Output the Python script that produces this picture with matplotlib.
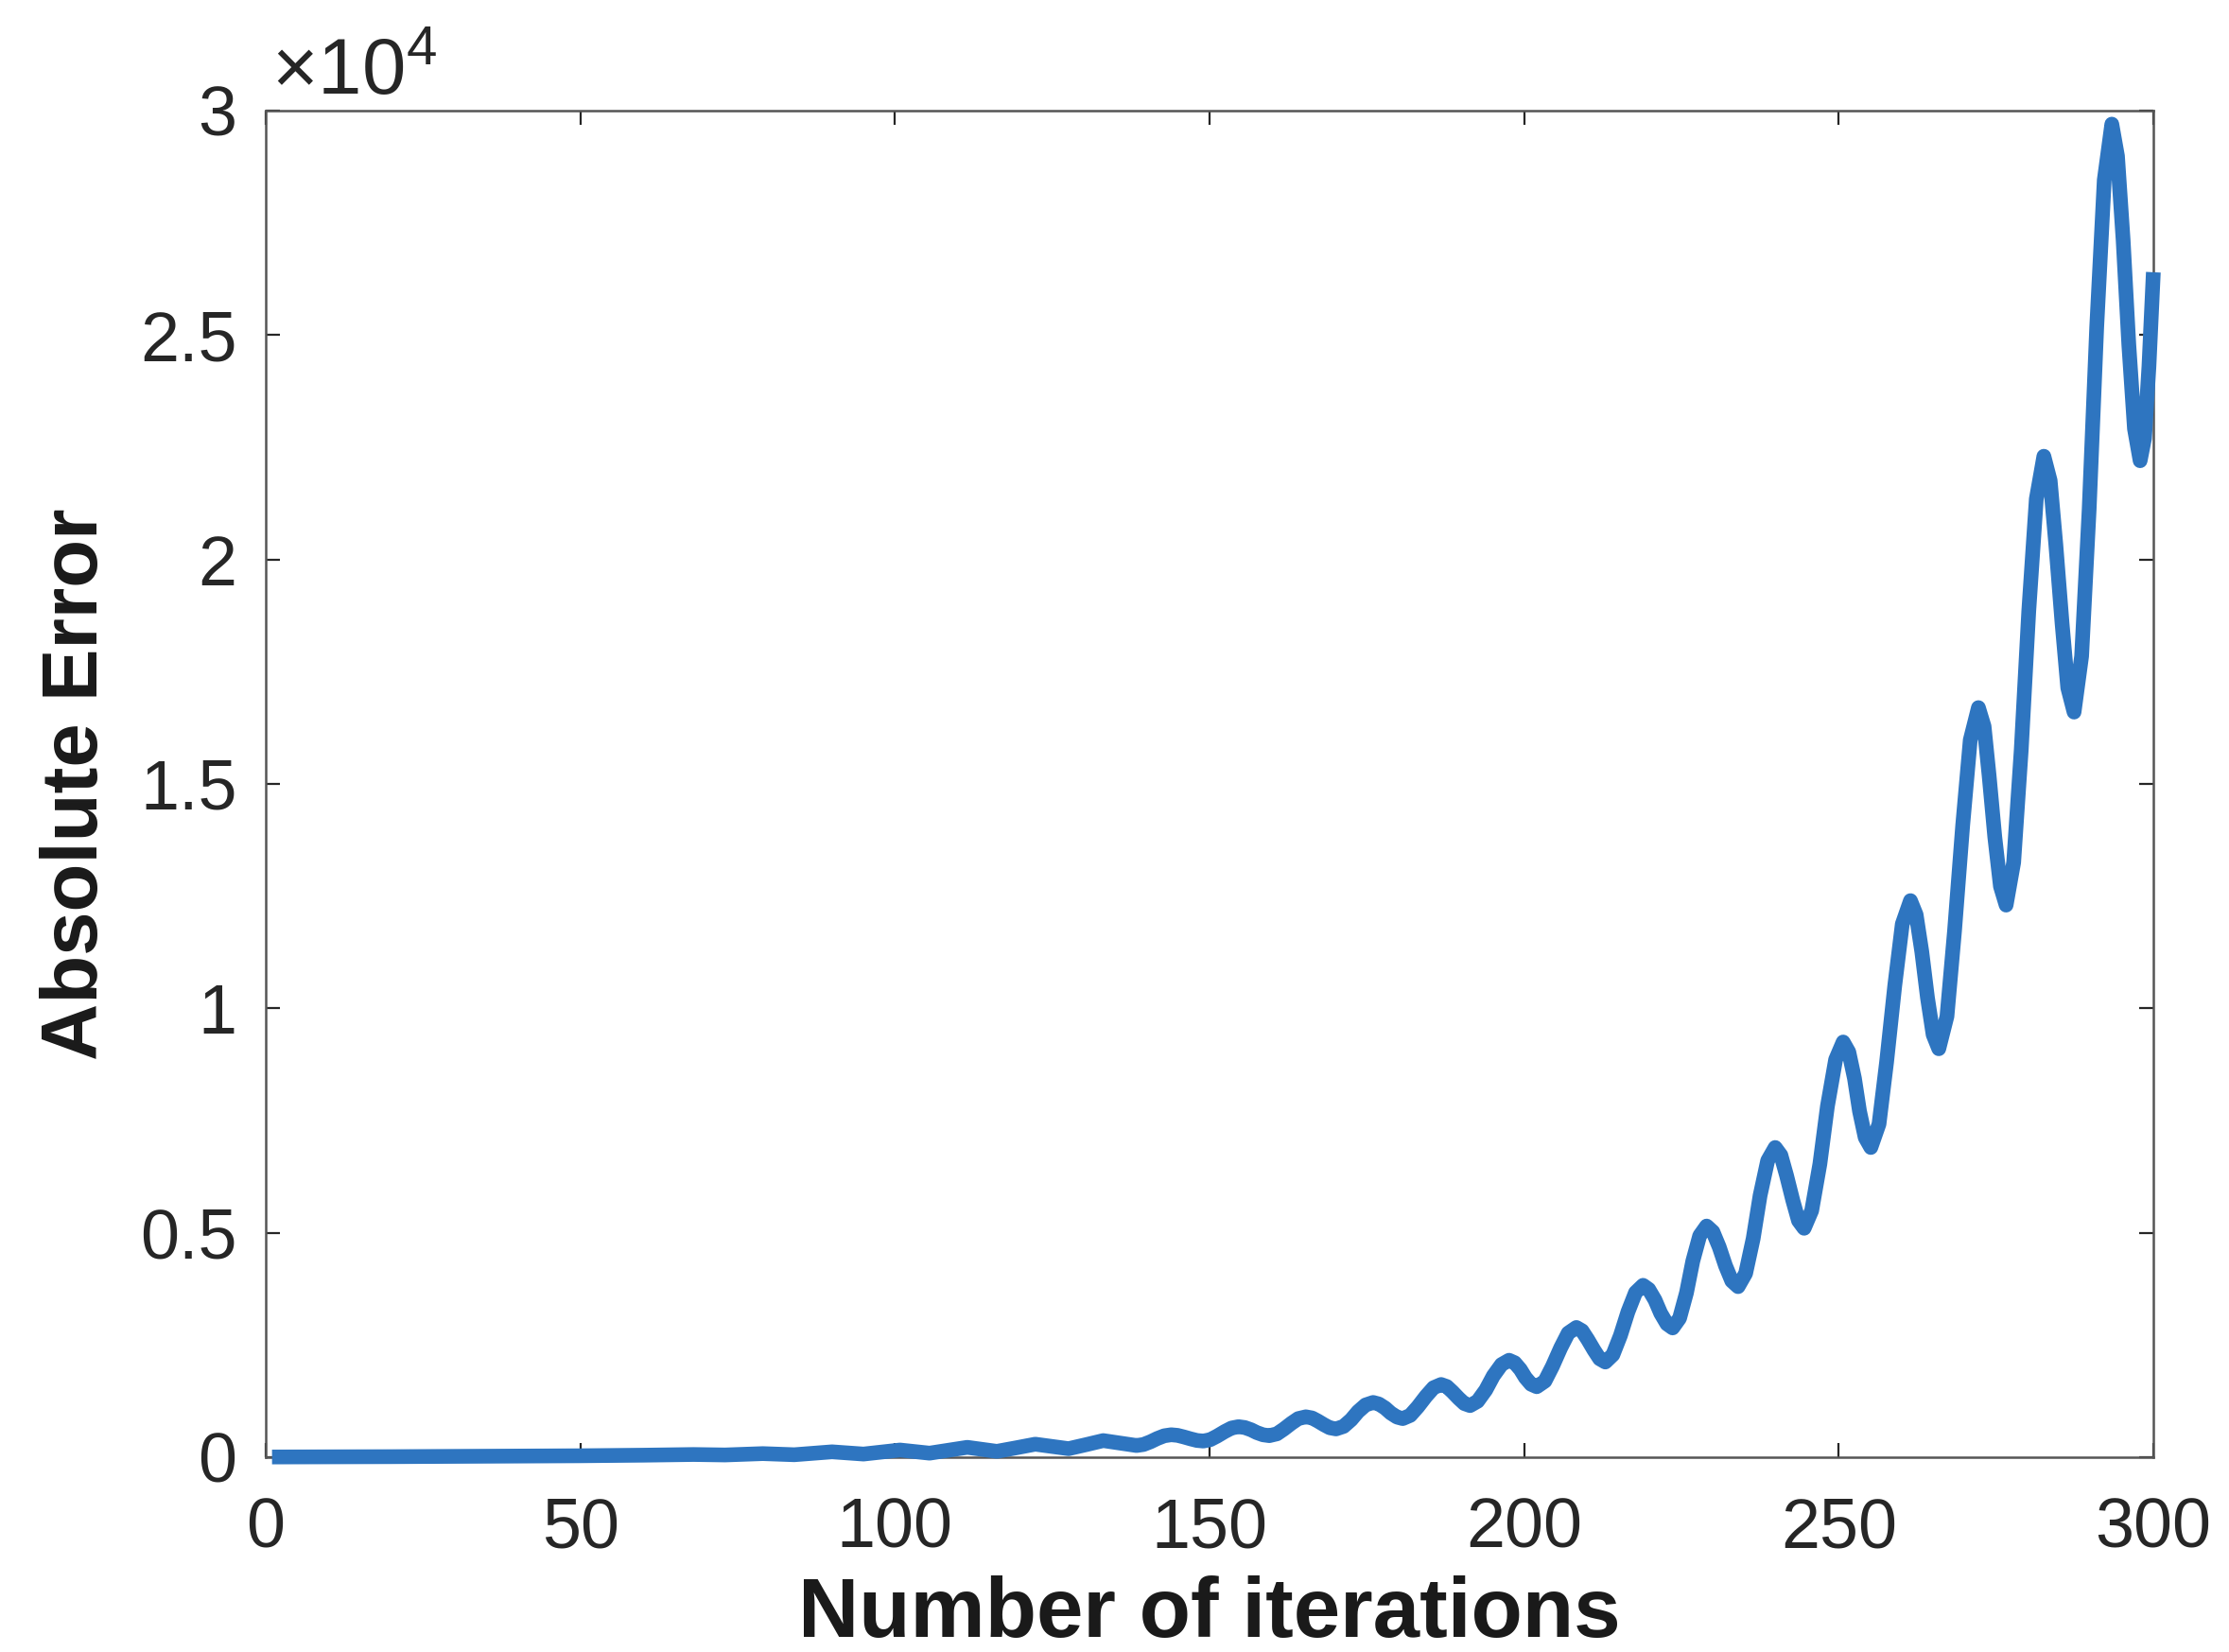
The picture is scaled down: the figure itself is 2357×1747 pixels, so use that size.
import matplotlib
matplotlib.use("Agg")
import matplotlib.pyplot as plt
from matplotlib.ticker import FixedLocator, FuncFormatter

plt.rcParams['font.family'] = ['Liberation Sans', 'DejaVu Sans']
plt.rcParams['mathtext.fontset'] = 'custom'
plt.rcParams['mathtext.rm'] = 'Liberation Sans'
plt.rcParams['mathtext.it'] = 'Liberation Sans'

# Data (iteration, absolute error)
iterations = [1, 10, 20, 30, 40, 50, 60, 68, 73, 79, 84, 90, 95,
              100.8, 103.2, 105.5, 108.5, 111.5, 113.9, 116.2, 119.3,
              122.3, 125.0, 127.6, 130.4, 133.1, 135.8, 138.4,
              139.5, 140.6, 141.7, 142.8, 143.9, 144.9, 145.9, 147.0, 148.0, 149.0,
              150.1, 151.2, 152.4, 153.5, 154.6, 155.6, 156.6, 157.5, 158.5, 159.5,
              160.7, 161.8, 163.0, 164.1, 165.3, 166.3, 167.2, 168.2, 169.1, 170.1,
              171.3, 172.5, 173.6, 174.8, 176.0, 176.9, 177.9, 178.8, 179.8, 180.7,
              181.9, 183.1, 184.4, 185.6, 186.8, 187.7, 188.6, 189.6, 190.5, 191.4,
              192.6, 193.9, 195.1, 196.4, 197.6, 198.5, 199.4, 200.2, 201.1, 202.0,
              203.3, 204.5, 205.8, 207.0, 208.3, 209.2, 210.1, 211.1, 212.0, 212.9,
              214.1, 215.3, 216.5, 217.7, 218.9, 219.8, 220.8, 221.7, 222.7, 223.6,
              224.7, 225.8, 226.8, 227.9, 229.0, 230.0, 231.0, 232.0, 233.0, 234.0,
              235.2, 236.4, 237.5, 238.7, 239.9, 240.8, 241.7, 242.7, 243.6, 244.5,
              245.7, 247.0, 248.2, 249.5, 250.7, 251.6, 252.5, 253.3, 254.2, 255.1,
              256.4, 257.6, 258.9, 260.1, 261.4, 262.3, 263.2, 264.1, 265.0, 265.9,
              267.2, 268.4, 269.7, 270.9, 272.2, 273.1, 273.9, 274.8, 275.7, 276.6,
              277.8, 279.0, 280.2, 281.4, 282.6, 283.6, 284.5, 285.5, 286.4, 287.4,
              288.6, 289.8, 291.0, 292.2, 293.4, 294.3, 295.2, 296.1, 297.0, 297.9,
              298.6, 299.3, 300]
abs_error = [5, 8, 12, 18, 25, 32, 45, 60, 50, 80, 55, 120, 70,
             160, 125, 90, 155, 220, 175, 130, 210,
             290, 240, 190, 280, 370, 315, 260,
             283, 343, 417, 477, 500, 487, 452, 408, 373, 360,
             390, 470, 570, 650, 680, 661, 611, 549, 499, 480,
             520, 625, 755, 860, 900, 874, 807, 723, 656, 630,
             686, 834, 1016, 1164, 1220, 1186, 1096, 984, 894, 860,
             932, 1122, 1358, 1548, 1620, 1575, 1458, 1312, 1195, 1150,
             1246, 1498, 1812, 2064, 2160, 2104, 1956, 1774, 1626, 1570,
             1695, 2025, 2435, 2765, 2890, 2817, 2624, 2386, 2193, 2120,
             2282, 2710, 3240, 3668, 3830, 3740, 3502, 3208, 2970, 2880,
             3096, 3663, 4367, 4934, 5150, 5022, 4684, 4266, 3928, 3800,
             4095, 4870, 5830, 6606, 6900, 6729, 6279, 5721, 5271, 5100,
             5494, 6532, 7818, 8856, 9250, 9027, 8439, 7711, 7123, 6900,
             7422, 8798, 10503, 11878, 12400, 12087, 11262, 10239, 9414, 9100,
             9822, 11722, 14078, 15978, 16700, 16282, 15182, 13818, 12718, 12300,
             13250, 15750, 18850, 21350, 22300, 21759, 20334, 18567, 17142, 16600,
             17845, 21120, 25181, 28455, 29700, 28988, 27113, 24788, 22913, 22200,
             22700, 24300, 26400]

x_ticks = [0, 50, 100, 150, 200, 250, 300]
y_ticks = [0, 5000, 10000, 15000, 20000, 25000, 30000]

W, H, DPI = 2357, 1747, 200
fig = plt.figure(figsize=(W / DPI, H / DPI), dpi=DPI)
ax = fig.add_axes([281 / W, 1 - 1541 / H, (2277 - 281) / W, (1541 - 117) / H])

ax.plot(iterations, abs_error, color='#2E75C0', linewidth=5.6,
        solid_joinstyle='round', solid_capstyle='butt', clip_on=False,
        zorder=3)

ax.set_xlim(0, 300)
ax.set_ylim(0, 30000)
ax.xaxis.set_major_locator(FixedLocator(x_ticks))
ax.yaxis.set_major_locator(FixedLocator(y_ticks))
ax.yaxis.set_major_formatter(FuncFormatter(lambda v, p: '%g' % (v / 1e4)))

ax.tick_params(axis='both', which='both', direction='in', length=5.5, width=0.8,
               color='#262626', labelsize=26.5, labelcolor='#262626',
               top=True, right=True)
ax.tick_params(axis='x', pad=15)
ax.tick_params(axis='y', pad=11)
for s in ax.spines.values():
    s.set_color('#555555')
    s.set_linewidth(0.9)

ax.set_xlabel('Number of iterations', fontsize=32, fontweight='bold',
              color='#1a1a1a', labelpad=5)
ax.set_ylabel('Absolute Error', fontsize=30, fontweight='bold',
              color='#1a1a1a', labelpad=10)

ax.text(0.003, 1.0, r'$\times10^{4}$', transform=ax.transAxes,
        fontsize=30, color='#262626', ha='left', va='bottom')

fig.savefig('out.png', dpi=DPI, facecolor='white')
